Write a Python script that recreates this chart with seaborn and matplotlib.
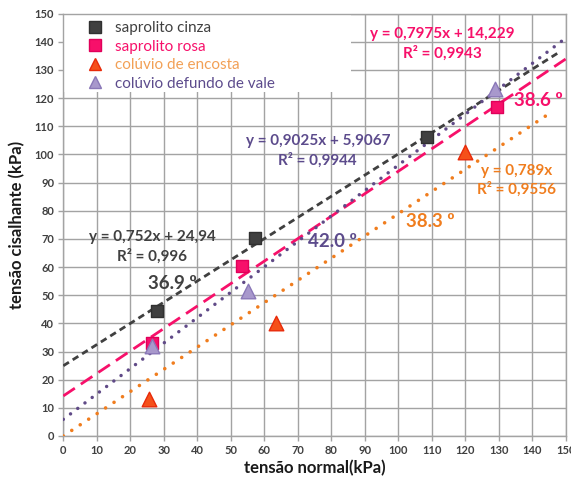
import numpy as np
import pandas as pd
import matplotlib
matplotlib.use("Agg")
import matplotlib.pyplot as plt
from matplotlib.lines import Line2D
from matplotlib.patches import Rectangle
import seaborn as sns

# ---------------- data ----------------
series_names = ["saprolito cinza", "saprolito rosa", "colúvio de encosta", "colúvio defundo de vale"]

cinza_x = [27.9, 57.2, 108.5]
cinza_y = [44.4, 70.4, 106.3]
rosa_x = [26.4, 53.3, 129.4]
rosa_y = [32.9, 60.4, 116.7]
encosta_x = [25.7, 63.5, 120.0]
encosta_y = [13.0, 40.2, 101.0]
vale_x = [26.4, 55.2, 128.9]
vale_y = [32.1, 51.6, 123.1]

# trend lines (equations shown on the chart)
slopes = [0.752, 0.7975, 0.789, 0.9025]
intercepts = [24.94, 14.229, 0.0, 5.9067]
line_x_start = [0, 0, 0, 0]
line_x_end = [147.5, 150, 144, 150]

eq_labels = ["y = 0,752x + 24,94", "y = 0,7975x + 14,229", "y = 0,789x", "y = 0,9025x + 5,9067"]
r2_labels = ["R² = 0,996", "R² = 0,9943", "R² = 0,9556", "R² = 0,9944"]
angle_labels = ["36.9 º", "38.6 º", "38.3 º", "42.0 º"]

x_ticks = list(range(0, 151, 10))
y_ticks = list(range(0, 151, 10))

# ---------------- style ----------------
sns.set_theme(style="white")
plt.rcParams["font.family"] = ["Lato", "DejaVu Sans"]

c_gray = "#404040"
c_pink = "#f7106a"
c_orange_marker = "#f5501a"
c_orange_edge = "#e82a0a"
c_orange_line = "#f07d1e"
c_orange_leg = "#f2a055"
c_purple_fill = "#a898cc"
c_purple_edge = "#8a78b8"
c_purple_line = "#604a87"
c_purple_text = "#5c4b8c"
grid_c = "#a3a3a3"

fig = plt.figure(figsize=(5.71, 4.82), dpi=100)
ax = fig.add_axes([63.3 / 571, 46 / 482, 502.3 / 571, 422.4 / 482])
ax.set_xlim(0, 150)
ax.set_ylim(0, 150)

ax.set_xticks(x_ticks)
ax.set_yticks(y_ticks)
ax.grid(True, color=grid_c, linewidth=1.0, zorder=0)
ax.set_axisbelow(True)
for s in ax.spines.values():
    s.set_color(grid_c)
    s.set_linewidth(1.0)
ax.tick_params(axis="both", which="both", direction="out", length=3.5, width=1.0,
               color=grid_c, labelsize=8, labelcolor="#404040", pad=3,
               bottom=True, left=True)
for lab in ax.get_xticklabels() + ax.get_yticklabels():
    lab.set_fontweight("bold")

# white legend box covering grid
ax.add_patch(Rectangle((0, 122.3), 85.8, 27.7, facecolor="white", edgecolor="none",
                       zorder=1.5))

# ---------------- trend lines ----------------
line_styles = [
    dict(color=c_gray, dashes=(2.4, 1.6), lw=2.0),
    dict(color=c_pink, dashes=(5.0, 2.6), lw=2.0),
    dict(color=c_orange_line, dashes=(0.01, 2.8), lw=2.6),
    dict(color=c_purple_line, dashes=(0.01, 2.6), lw=2.5),
]
for i in range(4):
    xs = np.array([line_x_start[i], line_x_end[i]], dtype=float)
    ys = slopes[i] * xs + intercepts[i]
    df_l = pd.DataFrame({"x": xs, "y": ys})
    sns.lineplot(data=df_l, x="x", y="y", ax=ax, color=line_styles[i]["color"],
                 linewidth=line_styles[i]["lw"], zorder=3, legend=False)
    ln = ax.lines[-1]
    ln.set_dashes(line_styles[i]["dashes"])
    ln.set_dash_capstyle("round" if i >= 2 else "butt")

# ---------------- markers ----------------
df = pd.concat([
    pd.DataFrame({"x": cinza_x, "y": cinza_y, "s": series_names[0]}),
    pd.DataFrame({"x": rosa_x, "y": rosa_y, "s": series_names[1]}),
    pd.DataFrame({"x": encosta_x, "y": encosta_y, "s": series_names[2]}),
    pd.DataFrame({"x": vale_x, "y": vale_y, "s": series_names[3]}),
])
marker_fc = [c_gray, c_pink, c_orange_marker, c_purple_fill]
marker_ec = ["#303030", "#e0005a", c_orange_edge, c_purple_edge]
marker_shape = ["s", "s", "^", "^"]
marker_size = [80, 80, 110, 110]
for i, name in enumerate(series_names):
    sub = df[df["s"] == name]
    sns.scatterplot(data=sub, x="x", y="y", ax=ax, marker=marker_shape[i],
                    color=marker_fc[i], edgecolor=marker_ec[i], linewidth=1.0,
                    s=marker_size[i], zorder=4, legend=False)

# ---------------- annotations ----------------
eq_pos = [(26.6, 70.8, 63.7), (113.3, 142.8, 136.0), (135.4, 94.2, 87.6), (76.0, 104.9, 97.8)]
eq_col = [c_gray, c_pink, c_orange_line, c_purple_text]
for i in range(4):
    x0, y1, y2 = eq_pos[i]
    ax.text(x0, y1, eq_labels[i], color=eq_col[i], fontsize=11, fontweight="bold",
            ha="center", va="center", zorder=5)
    ax.text(x0, y2, r2_labels[i], color=eq_col[i], fontsize=11, fontweight="bold",
            ha="center", va="center", zorder=5)

ang_pos = [(32.5, 54.3), (142.0, 119.3), (109.5, 76.1), (80.5, 69.0)]
for i in range(4):
    ax.text(ang_pos[i][0], ang_pos[i][1], angle_labels[i], color=eq_col[i],
            fontsize=13.5, fontweight="bold", ha="center", va="center", zorder=5)

# ---------------- legend ----------------
handles = [Line2D([0], [0], linestyle="none", marker=marker_shape[i],
                  markerfacecolor=marker_fc[i], markeredgecolor=marker_ec[i],
                  markersize=8 if i < 2 else 9)
           for i in range(4)]
leg_colors = [c_gray, c_pink, c_orange_leg, c_purple_text]
leg = ax.legend(handles, series_names, loc="upper left", bbox_to_anchor=(0.035, 0.997),
                frameon=False, fontsize=11, handlelength=1.0, handletextpad=0.85,
                labelspacing=0.3, borderaxespad=0)
for t, c in zip(leg.get_texts(), leg_colors):
    t.set_color(c)
leg.set_zorder(6)

ax.set_xlabel("tensão normal(kPa)", fontsize=12, fontweight="bold", color="#1a1a1a",
              labelpad=3)
ax.set_ylabel("tensão cisalhante (kPa)", fontsize=12, fontweight="bold", color="#1a1a1a",
              labelpad=7)

fig.savefig("out.png", dpi=100, facecolor="white")
